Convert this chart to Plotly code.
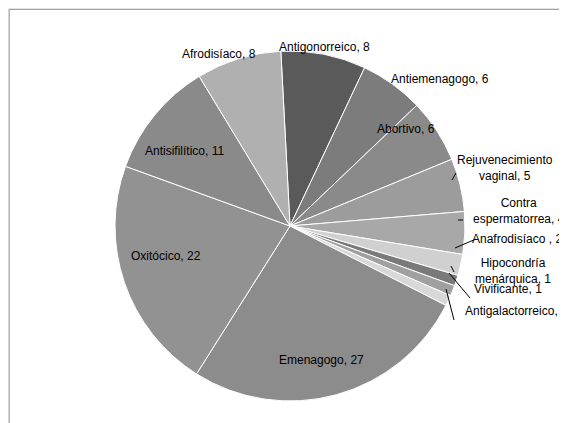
import plotly.graph_objects as go

labels = ["Antigonorreico", "Antiemenagogo", "Abortivo", "Rejuvenecimiento vaginal",
          "Contra espermatorrea", "Anafrodisíaco ", "Hipocondría menárquica", "Vivificante",
          "Antigalactorreico", "Emenagogo", "Oxitócico", "Antisifilítico", "Afrodisíaco"]
values = [8, 6, 6, 5, 4, 2, 1, 1, 1, 27, 22, 11, 8]
label_text = ["Antigonorreico, 8", "Antiemenagogo, 6", "Abortivo, 6", "Rejuvenecimiento<br>vaginal, 5",
              "Contra<br>espermatorrea, 4", "Anafrodisíaco , 2", "Hipocondría<br>menárquica, 1",
              "Vivificante, 1", "Antigalactorreico, 1", "Emenagogo, 27", "Oxitócico, 22",
              "Antisifilítico, 11", "Afrodisíaco, 8"]
colors = ["#5a5a5a", "#7c7c7c", "#8a8a8a", "#9c9c9c", "#a8a8a8", "#d0d0d0", "#7a7a7a",
          "#a0a0a0", "#d8d8d8", "#8c8c8c", "#929292", "#8a8a8a", "#b0b0b0"]
# label positions in pixels (x, y, xanchor)
label_pos = [(316, 30, "center"), (432, 62, "center"), (398, 112, "center"), (497, 160, "center"),
             (511, 203, "center"), (509, 231, "center"), (505, 263, "center"), (500, 290, "center"),
             (508, 312, "center"), (313, 361, "center"), (158, 248, "center"), (176, 143, "center"),
             (211, 37, "center")]
leaders = [None, None, None, [(448, 165), (444, 172)], [(455, 212), (450, 212)],
           [(468, 231), (447, 240)], [(446, 264), (443, 258)], [(462, 290), (441, 265)],
           [(446, 312), (438, 281)], None, None, None, None]

W, H = 567, 423
fig = go.Figure(go.Pie(
    labels=labels, values=values, sort=False, direction="clockwise", rotation=-3,
    marker=dict(colors=colors, line=dict(color="white", width=1)),
    textinfo="none", hoverinfo="label+value", showlegend=False,
    domain=dict(x=[107 / W, 457 / W], y=[1 - 393 / H, 1 - 43 / H]),
))
ann = []
for t, (x, y, xa) in zip(label_text, label_pos):
    ann.append(dict(text=t, x=x / W, y=1 - y / H, xref="paper", yref="paper", showarrow=False,
                    xanchor=xa, font=dict(family="Liberation Sans", size=12, color="black")))
shapes = [dict(type="rect", xref="paper", yref="paper", x0=0.002, y0=0.003, x1=0.998, y1=0.997,
               line=dict(color="#888888", width=1))]
for ld in leaders:
    if ld:
        (x0, y0), (x1, y1) = ld
        shapes.append(dict(type="line", xref="paper", yref="paper", x0=x0 / W, y0=1 - y0 / H,
                           x1=x1 / W, y1=1 - y1 / H, line=dict(color="black", width=1)))
fig.update_layout(width=W, height=H, margin=dict(l=0, r=0, t=0, b=0),
                  paper_bgcolor="white", annotations=ann, shapes=shapes)
fig.write_html("out.html")
